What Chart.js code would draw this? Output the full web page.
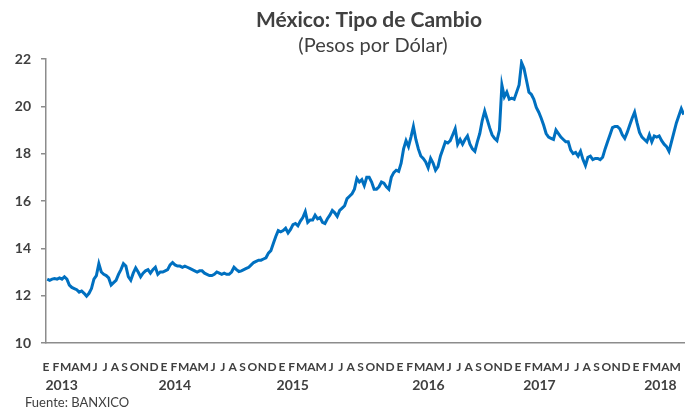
<!DOCTYPE html>
<html>
<head>
<meta charset="utf-8">
<script src="https://cdn.jsdelivr.net/npm/chart.js@4.4.1/dist/chart.umd.min.js"></script>
<style>
  html, body { margin: 0; padding: 0; background: #fff; }
  #wrap { position: relative; width: 694px; height: 411px; }
</style>
</head>
<body>
<div id="wrap"><canvas id="fx-chart"></canvas></div>
<script>
// Tipo de cambio FIX, lecturas semanales (4 por mes) tomadas de la grafica
const monthLetters = ['E', 'F', 'M', 'A', 'M', 'J', 'J', 'A', 'S', 'O', 'N', 'D'];
const years = ['2013', '2014', '2015', '2016', '2017', '2018'];

const rate2013 = [
  12.70, 12.65, 12.70, 12.72,  12.70, 12.75, 12.70, 12.80,  12.70, 12.45, 12.35, 12.30,
  12.25, 12.15, 12.20, 12.10,  11.98, 12.10, 12.30, 12.70,  12.85, 13.35, 13.00, 12.90,
  12.85, 12.75, 12.45, 12.55,  12.65, 12.90, 13.10, 13.35,  13.25, 12.80, 12.65, 12.95,
  13.17, 13.00, 12.80, 12.95,  13.05, 13.10, 12.95, 13.10,  13.20, 12.90, 13.00, 13.00
];
const rate2014 = [
  13.05, 13.10, 13.30, 13.40,  13.30, 13.25, 13.25, 13.20,  13.25, 13.20, 13.15, 13.10,
  13.05, 13.00, 13.05, 13.05,  12.95, 12.90, 12.85, 12.85,  12.90, 13.00, 12.95, 12.90,
  12.95, 12.90, 12.90, 13.00,  13.20, 13.10, 13.02, 13.05,  13.10, 13.15, 13.20, 13.30,
  13.40, 13.45, 13.50, 13.50,  13.55, 13.60, 13.80, 13.90,  14.20, 14.50, 14.75, 14.70
];
const rate2015 = [
  14.75, 14.85, 14.65, 14.80,  15.00, 15.05, 14.95, 15.15,  15.30, 15.55, 15.10, 15.20,
  15.20, 15.40, 15.25, 15.30,  15.10, 15.05, 15.25, 15.40,  15.60, 15.50, 15.35, 15.60,
  15.70, 15.80, 16.10, 16.20,  16.30, 16.50, 16.95, 16.80,  16.90, 16.65, 17.00, 17.00,
  16.80, 16.50, 16.50, 16.60,  16.80, 16.75, 16.60, 16.50,  17.00, 17.20, 17.30, 17.25
];
const rate2016 = [
  17.60, 18.20, 18.55, 18.30,  18.70, 19.15, 18.60, 18.20,  17.90, 17.80, 17.65, 17.40,
  17.80, 17.60, 17.30, 17.45,  17.90, 18.20, 18.50, 18.45,  18.55, 18.80, 19.05, 18.40,
  18.60, 18.40, 18.60, 18.75,  18.40, 18.20, 18.10, 18.50,  18.85, 19.40, 19.80, 19.45,
  19.10, 18.80, 18.65, 18.55,  19.00, 20.90, 20.40, 20.60,  20.30, 20.35, 20.30, 20.60
];
const rate2017 = [
  20.90, 21.85, 21.60, 21.10,  20.60, 20.50, 20.30, 19.95,  19.75, 19.50, 19.20, 18.85,
  18.70, 18.65, 18.60, 19.00,  18.85, 18.70, 18.60, 18.50,  18.50, 18.15, 18.00, 18.05,
  17.90, 18.10, 17.75, 17.50,  17.85, 17.90, 17.75, 17.80,  17.80, 17.75, 17.85, 18.20,
  18.50, 18.80, 19.10, 19.15,  19.15, 19.05, 18.80, 18.65,  18.90, 19.20, 19.50, 19.75
];
const rate2018 = [
  19.30, 18.90, 18.70, 18.60,  18.50, 18.80, 18.50, 18.75,  18.70, 18.75, 18.55, 18.40,
  18.30, 18.10, 18.50, 18.90,  19.30, 19.60, 19.90, 19.65
];

const yTicks = [10, 12, 14, 16, 18, 20, 22];

const TEXT = '#404040';
const AXIS = '#8c8c8c';
const BLUE = '#0070C0';

// x = meses transcurridos desde enero 2013, una lectura a mitad de cada semana
const series = [rate2013, rate2014, rate2015, rate2016, rate2017, rate2018];
const points = series.flatMap((vals, yi) =>
  vals.map((v, i) => ({ x: yi * 12 + (i + 0.5) / 4, y: v }))
);

// year captions sit under the month letters, at these month offsets
const yearAt = [1.6, 13.1, 25.1, 38.9, 50.2, 62.5];

const textPlugin = {
  id: 'textPlugin',
  afterDraw(chart) {
    const { ctx, scales: { x } } = chart;
    ctx.save();
    ctx.fillStyle = TEXT;
    ctx.textAlign = 'center';
    ctx.textBaseline = 'middle';

    ctx.font = 'bold 21px Lato, "Open Sans", sans-serif';
    ctx.fillText('México: Tipo de Cambio', 369, 20);
    ctx.font = '20px Lato, "Open Sans", sans-serif';
    ctx.fillText('(Pesos por Dólar)', 373, 46);

    ctx.font = 'bold 14px Lato, "Open Sans", sans-serif';
    years.forEach((yr, i) => {
      ctx.fillText(yr, x.getPixelForValue(yearAt[i]), 385);
    });

    ctx.textAlign = 'left';
    ctx.font = '13px Lato, "Open Sans", sans-serif';
    ctx.fillText('Fuente: BANXICO', 25, 403);
    ctx.restore();
  }
};

new Chart(document.getElementById('fx-chart'), {
  type: 'line',
  data: {
    datasets: [{
      data: points,
      borderColor: BLUE,
      borderWidth: 3,
      pointRadius: 0,
      tension: 0,
      fill: false
    }]
  },
  options: {
    responsive: true,
    maintainAspectRatio: false,
    devicePixelRatio: 1,
    animation: false,
    layout: { padding: { left: 0, top: 59, right: 10, bottom: 38 } },
    plugins: { legend: { display: false }, tooltip: { enabled: false }, title: { display: false } },
    scales: {
      x: {
        type: 'linear',
        min: 0,
        max: 64.9,
        afterBuildTicks: scale => {
          scale.ticks = Array.from({ length: 65 }, (_, i) => ({ value: i }));
        },
        afterFit: scale => { scale.height = 30; },
        grid: { display: false },
        border: { display: true, color: AXIS, width: 1.5 },
        ticks: {
          autoSkip: false,
          maxRotation: 0,
          minRotation: 0,
          padding: 9,
          color: TEXT,
          font: { family: 'Lato, "Open Sans", sans-serif', size: 12, weight: 'bold' },
          callback: value => monthLetters[value % 12]
        }
      },
      y: {
        min: 10,
        max: 22,
        afterBuildTicks: scale => {
          scale.ticks = yTicks.map(v => ({ value: v }));
        },
        afterFit: scale => { scale.width = 46; },
        grid: { drawOnChartArea: false, drawTicks: true, tickLength: 5, color: AXIS, lineWidth: 1.5 },
        border: { display: true, color: AXIS, width: 1.5 },
        ticks: {
          padding: 10,
          color: TEXT,
          font: { family: 'Lato, "Open Sans", sans-serif', size: 14, weight: 'bold' }
        }
      }
    }
  },
  plugins: [textPlugin]
});
</script>
</body>
</html>
